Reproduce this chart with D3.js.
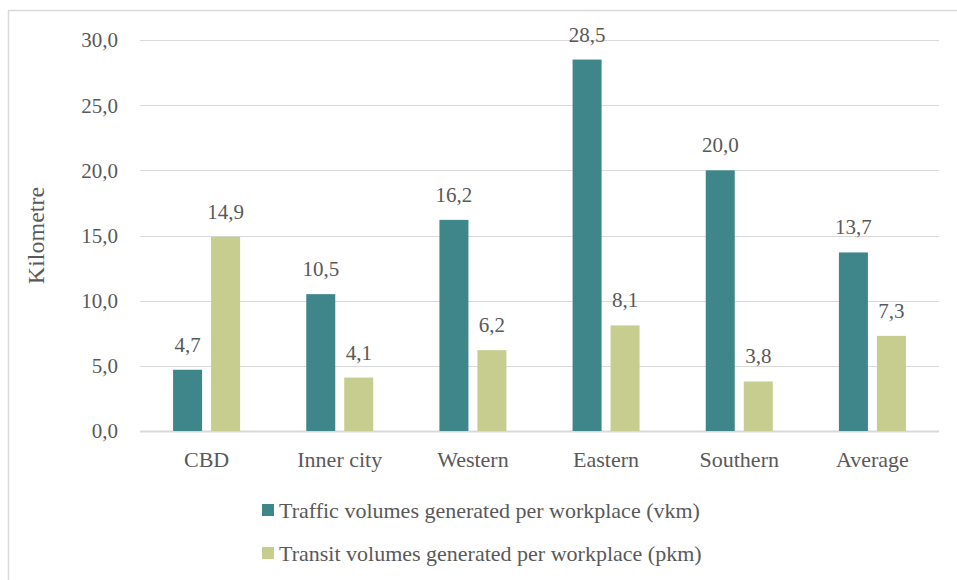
<!DOCTYPE html>
<html>
<head>
<meta charset="utf-8">
<script src="https://cdn.jsdelivr.net/npm/d3@7"></script>
<style>
  body { margin: 0; background: #fff; }
</style>
</head>
<body>
<div id="chart"></div>
<script>
var categories = ["CBD", "Inner city", "Western", "Eastern", "Southern", "Average"];
var trafficValues = [4.7, 10.5, 16.2, 28.5, 20.0, 13.7];
var transitValues = [14.9, 4.1, 6.2, 8.1, 3.8, 7.3];
var seriesNames = ["Traffic volumes generated per workplace (vkm)",
  "Transit volumes generated per workplace (pkm)"];
var yTicks = [0, 5, 10, 15, 20, 25, 30];
var colors = ["#3e868a", "#c6cd8f"];

var svgWidth = 957;
var svgHeight = 580;

var margin = { top: 40, right: 18, bottom: 149, left: 140 };
var width = svgWidth - margin.left - margin.right;
var height = svgHeight - margin.top - margin.bottom;

var svg = d3.select("#chart")
  .append("svg")
  .attr("width", svgWidth)
  .attr("height", svgHeight)
  .style("font-family", "'Liberation Serif', 'DejaVu Serif', serif");

// outer chart border (runs off the right and bottom edge)
svg.append("rect")
  .attr("x", 8.5)
  .attr("y", 10.5)
  .attr("width", 1000)
  .attr("height", 1000)
  .attr("fill", "none")
  .attr("stroke", "#d9d9d9")
  .attr("stroke-width", 1.5);

var chartGroup = svg.append("g")
  .attr("transform", `translate(${margin.left}, ${margin.top})`);

var x0 = d3.scaleBand()
  .domain(categories)
  .range([0, width]);

var yScale = d3.scaleLinear()
  .domain([0, 30])
  .range([height, 0]);

var fmt = d => d3.format(".1f")(d).replace(".", ",");
var textColor = "#595959";

// gridlines
chartGroup.append("g")
  .selectAll("line")
  .data(yTicks)
  .enter()
  .append("line")
  .attr("x1", 0)
  .attr("x2", width)
  .attr("y1", d => Math.round(yScale(d)) + 0.5)
  .attr("y2", d => Math.round(yScale(d)) + 0.5)
  .attr("stroke", "#d9d9d9")
  .attr("stroke-width", d => d === 0 ? 2 : 1.2);

// y tick labels
chartGroup.append("g")
  .selectAll("text")
  .data(yTicks)
  .enter()
  .append("text")
  .attr("x", -22)
  .attr("y", d => yScale(d))
  .attr("dy", "0.35em")
  .attr("text-anchor", "end")
  .attr("font-size", "21px")
  .attr("fill", textColor)
  .text(fmt);

// y axis title
svg.append("text")
  .attr("transform", `translate(36, ${margin.top + height / 2}) rotate(-90)`)
  .attr("text-anchor", "middle")
  .attr("dy", "0.35em")
  .attr("font-size", "24px")
  .attr("fill", textColor)
  .text("Kilometre");

var barWidth = 29;
var barGap = 9;

var series = [trafficValues, transitValues];

series.forEach(function(values, s) {
  var offset = s === 0 ? -(barGap / 2 + barWidth) : barGap / 2;
  var g = chartGroup.append("g");

  g.selectAll("rect")
    .data(values)
    .enter()
    .append("rect")
    .attr("x", (d, i) => x0(categories[i]) + x0.bandwidth() / 2 + offset)
    .attr("y", d => yScale(d))
    .attr("width", barWidth)
    .attr("height", d => height - yScale(d))
    .attr("fill", colors[s]);

  g.selectAll("text")
    .data(values)
    .enter()
    .append("text")
    .attr("x", (d, i) => x0(categories[i]) + x0.bandwidth() / 2 + offset + barWidth / 2)
    .attr("y", d => yScale(d) - 18)
    .attr("text-anchor", "middle")
    .attr("font-size", "21px")
    .attr("fill", textColor)
    .text(fmt);
});

// category labels
chartGroup.append("g")
  .selectAll("text")
  .data(categories)
  .enter()
  .append("text")
  .attr("x", d => x0(d) + x0.bandwidth() / 2)
  .attr("y", height + 36)
  .attr("text-anchor", "middle")
  .attr("font-size", "22px")
  .attr("fill", textColor)
  .text(d => d);

// legend
var legend = svg.append("g")
  .attr("transform", "translate(262, 504)");

seriesNames.forEach(function(name, i) {
  var row = legend.append("g")
    .attr("transform", `translate(0, ${i * 43})`);
  row.append("rect")
    .attr("width", 12)
    .attr("height", 12)
    .attr("fill", colors[i]);
  row.append("text")
    .attr("x", 17)
    .attr("y", 6)
    .attr("dy", "0.35em")
    .attr("font-size", "22px")
    .attr("fill", textColor)
    .text(name);
});
</script>
</body>
</html>
